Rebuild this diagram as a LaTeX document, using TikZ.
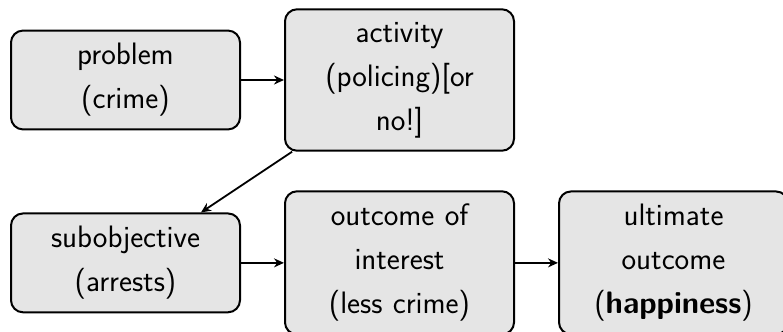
\documentclass[tikz,border=0pt]{standalone}
\usepackage{tikz}
\usetikzlibrary{arrows.meta, positioning}
\tikzset{
	stage/.style={rectangle, rounded corners=6pt, draw=black, line width=1pt, fill=black!10, text width=104pt, inner xsep=5.25pt, inner ysep=6.4pt, align=center, font=\sffamily\fontsize{15.5}{22}\selectfont},
	link/.style={-{Stealth[length=5pt, width=4.5pt]}, line width=0.9pt},
}

\begin{document}
\begin{tikzpicture}[x=0.5pt, y=-0.5pt, node distance=21.5pt]
	\useasboundingbox (0,0) rectangle (783,332);
	\node[stage] (problem) at (125.5,80) {problem\\(crime)};
	\node[stage, right=of problem] (activity) {activity\\(policing)[or\\no!]};
	\node[stage, below=41pt of problem] (subobj) {subobjective\\(arrests)};
	\node[stage, right=of subobj] (interest) {outcome of\\interest\\(less crime)};
	\node[stage, right=of interest] (ultimate) {ultimate\\outcome\\(\textbf{happiness})};
	\draw[link] (problem) -- (activity);
	\draw[link] (activity) -- (subobj);
	\draw[link] (subobj) -- (interest);
	\draw[link] (interest) -- (ultimate);
\end{tikzpicture}
\end{document}
